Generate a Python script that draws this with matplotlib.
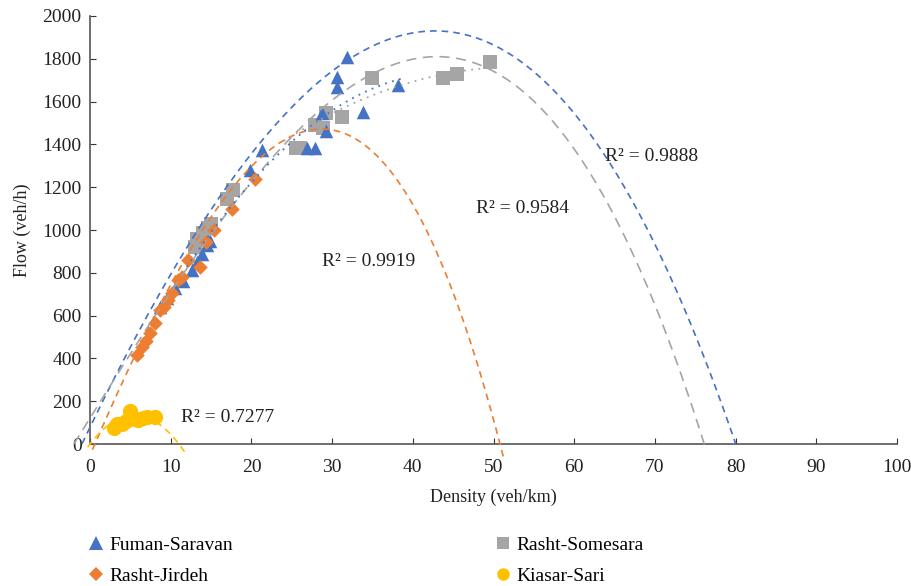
import numpy as np
import matplotlib.pyplot as plt
from matplotlib.lines import Line2D

plt.rcParams["font.family"] = ["Liberation Serif", "DejaVu Serif"]

# scatter data (density veh/km, flow veh/h)
fuman_k = [31.8, 30.6, 30.6, 38.2, 33.8, 29.2, 28.7, 27.9, 26.9, 21.3, 19.8,
           14.9, 14.5, 13.9, 13.3, 12.6, 11.5, 10.5, 9.6, 8.7]
fuman_q = [1808, 1715, 1668, 1678, 1551, 1463, 1547, 1383, 1383, 1374, 1280,
           950, 930, 890, 850, 815, 760, 730, 680, 640]

somesara_k = [49.6, 45.5, 43.7, 34.9, 31.2, 29.2, 27.9, 28.9, 26.0, 25.5,
              17.7, 17.0, 15.0, 14.6, 14.0, 13.3, 13.0]
somesara_q = [1785, 1729, 1710, 1710, 1528, 1547, 1491, 1477, 1383, 1383,
              1187, 1145, 1030, 1010, 986, 960, 921]

jirdeh_k = [5.8, 6.4, 6.9, 7.4, 8.1, 8.7, 9.2, 9.7, 10.2, 10.9, 11.4, 12.2,
            13.6, 14.4, 15.3, 17.6, 20.4]
jirdeh_q = [416, 453, 480, 519, 565, 626, 640, 673, 706, 766, 780, 860,
            825, 945, 1000, 1100, 1240]

kiasar_k = [3.0, 3.3, 4.0, 4.5, 5.0, 5.2, 5.6, 6.0, 6.6, 7.1, 8.0]
kiasar_q = [75, 92, 95, 108, 152, 128, 115, 110, 122, 126, 126]

# trendline coefficients (highest power first) and drawn density ranges
fuman_fit = [-0.004724, -0.6092, 77.99, 78.59]
fuman_range = (-1.0, 80.0)
somesara_fit = [-0.009709, -0.0783, 60.59, 121.4]
somesara_range = (-2.0, 76.3)
jirdeh_fit = [-0.0229, -0.536, 87.35, -52.21]
jirdeh_range = (0.3, 51.2)
kiasar_fit = [-4.44, 48.9, 0.0]
kiasar_range = (-0.3, 11.7)
fuman_dot_fit = [-0.8783, 77.53, 23.1]
fuman_dot_range = (12.0, 38.5)
somesara_dot_fit = [-0.4144, 43.85, 602.4]
somesara_dot_range = (24.0, 48.5)

r2_labels = ["R\u00b2 = 0.9888", "R\u00b2 = 0.9584", "R\u00b2 = 0.9919", "R\u00b2 = 0.7277"]
r2_pos = [(63.8, 1345), (47.8, 1100), (28.8, 855), (11.3, 125)]

blue = "#4472C4"
orange = "#ED7D31"
gray = "#A5A5A5"
yellow = "#FFC000"

fig = plt.figure(figsize=(9.12, 5.86), dpi=100)
ax = fig.add_axes([0.0987, 0.2423, 0.885, 0.7304])


def trend(coef, rng, color, dashes, lw=1.2):
    k = np.linspace(rng[0], rng[1], 300)
    ax.plot(k, np.polyval(coef, k), color=color, lw=lw, dashes=dashes,
            clip_on=False, zorder=3)


trend(fuman_fit, fuman_range, blue, (4, 3))
trend(somesara_fit, somesara_range, gray, (6, 4))
trend(jirdeh_fit, jirdeh_range, orange, (4, 3))
trend(kiasar_fit, kiasar_range, yellow, (4, 3))
trend(fuman_dot_fit, fuman_dot_range, blue, (1, 3), lw=1.3)
trend(somesara_dot_fit, somesara_dot_range, gray, (1, 3), lw=1.3)

ms = 95
ax.scatter(somesara_k, somesara_q, marker="s", s=ms, color=gray, zorder=2,
           clip_on=False, linewidths=0)
ax.scatter(fuman_k, fuman_q, marker="^", s=ms, color=blue, zorder=2,
           clip_on=False, linewidths=0)
ax.scatter(jirdeh_k, jirdeh_q, marker="D", s=55, color=orange, zorder=2,
           clip_on=False, linewidths=0)
ax.scatter(kiasar_k, kiasar_q, marker="o", s=120, color=yellow, zorder=2,
           clip_on=False, linewidths=0)

for txt, (x, y) in zip(r2_labels, r2_pos):
    ax.text(x, y, txt, fontsize=14, color="#222222", ha="left", va="center")

ax.set_xlim(0, 100)
ax.set_ylim(0, 2000)
ax.set_xticks(np.arange(0, 101, 10))
ax.set_yticks(np.arange(0, 2001, 200))
ax.tick_params(direction="in", labelsize=14, length=4, color="#333333",
               labelcolor="#222222")
ax.tick_params(axis="x", pad=11)
ax.tick_params(axis="y", pad=6)
for s in ["top", "right"]:
    ax.spines[s].set_visible(False)
for s in ["left", "bottom"]:
    ax.spines[s].set_color("#555555")
    ax.spines[s].set_linewidth(1.2)

ax.set_xlabel("Density (veh/km)", fontsize=13, color="#222222", labelpad=9)
ax.set_ylabel("Flow (veh/h)", fontsize=13, color="#222222", labelpad=8)

handles = [
    Line2D([], [], ls="none", marker="^", ms=10, color=blue, mew=0),
    Line2D([], [], ls="none", marker="D", ms=7, color=orange, mew=0),
    Line2D([], [], ls="none", marker="s", ms=9, color=gray, mew=0),
    Line2D([], [], ls="none", marker="o", ms=9, color=yellow, mew=0),
]
labels = ["Fuman-Saravan", "Rasht-Jirdeh", "Rasht-Somesara", "Kiasar-Sari"]
fig.legend(handles, labels, loc="upper left", bbox_to_anchor=(0.097, 0.085),
           ncol=2, frameon=False, fontsize=14, handletextpad=0.3,
           columnspacing=13.45, labelspacing=0.68, handlelength=0.8,
           borderpad=0, borderaxespad=0)

fig.savefig("out.png", dpi=100)
